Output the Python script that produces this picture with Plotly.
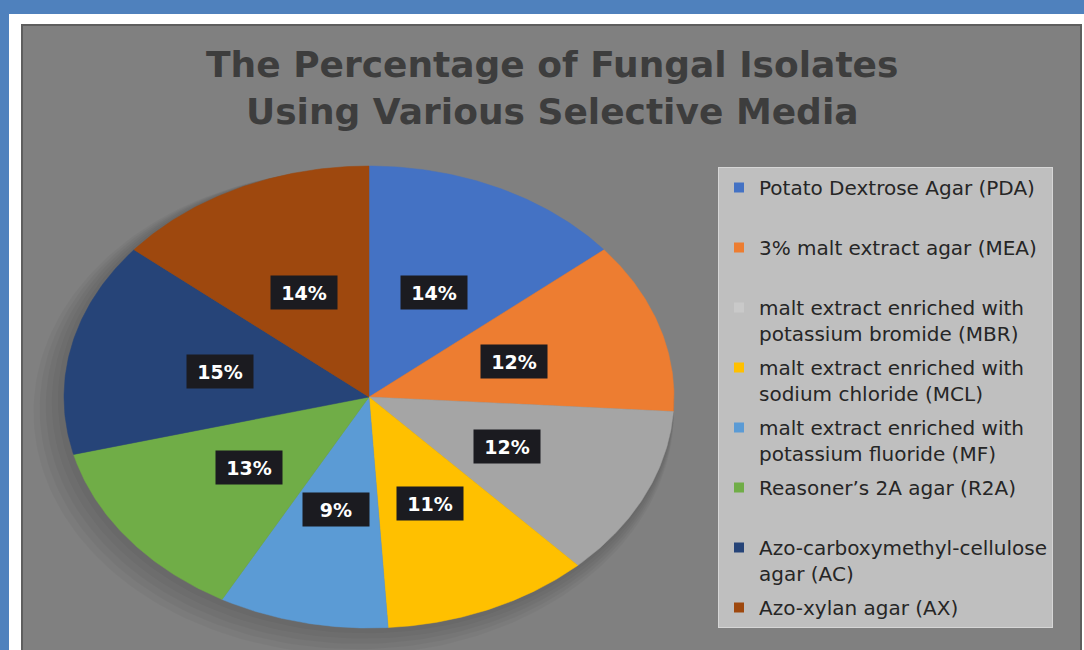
import numpy as np
import plotly.graph_objects as go

# ---------------- data ----------------
media_labels = [
    "Potato Dextrose Agar (PDA)",
    "3% malt extract agar (MEA)",
    "malt extract enriched with<br>potassium bromide (MBR)",
    "malt extract enriched with<br>sodium chloride (MCL)",
    "malt extract enriched with<br>potassium fluoride (MF)",
    "Reasoner’s 2A agar (R2A)",
    "Azo-carboxymethyl-cellulose<br>agar (AC)",
    "Azo-xylan agar (AX)",
]
percentages = [14, 12, 12, 11, 9, 13, 15, 14]
slice_colors = ["#4472C4", "#ED7D31", "#A5A5A5", "#FFC000",
                "#5B9BD5", "#70AD47", "#264478", "#9E480E"]
legend_colors = ["#4472C4", "#ED7D31", "#C9C9C9", "#FFC000",
                 "#5B9BD5", "#70AD47", "#264478", "#9E480E"]
title_text = "<b>The Percentage of Fungal Isolates<br>Using Various Selective Media</b>"

# ---------------- layout constants ----------------
W, H = 1084, 650
CX, CY, RX, RY = 369, 397, 305, 231   # pie centre / radii in pixels

fig = go.Figure()

# soft shadow beneath the pie
t = np.linspace(0, 2 * np.pi, 200)
for k in range(6):
    s = 1.0 + 0.01 * k
    fig.add_trace(go.Scatter(
        x=s * np.sin(t) - 0.01 * k, y=s * np.cos(t) - 0.013 * k,
        mode="lines", fill="toself", fillcolor="rgba(0,0,0,0.035)",
        line=dict(width=0), showlegend=False, hoverinfo="skip"))

total = sum(percentages)
start = 0.0
label_pos = []
for lab, val, col in zip(media_labels, percentages, slice_colors):
    frac = val / total
    th = np.linspace(start, start + frac, 80) * 2 * np.pi
    xs = np.concatenate([[0], np.sin(th), [0]])
    ys = np.concatenate([[0], np.cos(th), [0]])
    fig.add_trace(go.Scatter(
        x=xs, y=ys, mode="lines", fill="toself", fillcolor=col,
        line=dict(color=col, width=0.5), showlegend=False,
        hoverinfo="text", text=f"{lab}: {val}%", legendgroup=lab))
    mid = (start + frac / 2) * 2 * np.pi
    label_pos.append((0.5 * np.sin(mid), 0.5 * np.cos(mid), val))
    start += frac

# legend entries (square swatches)
n = len(media_labels)
for i, (lab, col) in enumerate(zip(media_labels, legend_colors)):
    name = lab if ("<br>" in lab or i == n - 1) else lab + "<br>\u00a0"
    fig.add_trace(go.Scatter(
        x=[None], y=[None], mode="markers",
        marker=dict(symbol="square", size=10, color=col),
        name=name, legendgroup=lab, showlegend=True))

# data labels
for x, y, v in label_pos:
    fig.add_annotation(
        x=x, y=y, xref="x", yref="y", text=f"<b>{v}%</b>", showarrow=False,
        font=dict(family="DejaVu Sans", size=19, color="white"),
        bgcolor="#1b1b20", width=66, height=33, borderpad=0)

# title
fig.add_annotation(
    x=552 / W, y=1 - 88 / H, xref="paper", yref="paper",
    xanchor="center", yanchor="middle", text=title_text, showarrow=False,
    font=dict(family="DejaVu Sans", size=36, color="#3D3D3D"))

shapes = [
    # white inner frame
    dict(type="rect", xref="paper", yref="paper", x0=9 / W, x1=1.0,
         y0=0, y1=1 - 14 / H, fillcolor="white", line=dict(width=0), layer="below"),
    # gray chart area
    dict(type="rect", xref="paper", yref="paper", x0=22 / W, x1=1081 / W,
         y0=-0.01, y1=1 - 25 / H, fillcolor="#808080",
         line=dict(color="#5E5E5E", width=2), layer="below"),
]

fig.update_layout(
    width=W, height=H, autosize=False,
    margin=dict(l=0, r=0, t=0, b=0),
    paper_bgcolor="#4F81BD", plot_bgcolor="rgba(0,0,0,0)",
    shapes=shapes,
    xaxis=dict(range=[-CX / RX, (W - CX) / RX], visible=False, fixedrange=True),
    yaxis=dict(range=[-(H - CY) / RY, CY / RY], visible=False, fixedrange=True),
    legend=dict(
        x=718 / W, y=1 - 167 / H, xanchor="left", yanchor="top",
        bgcolor="#BFBFBF", bordercolor="#D6D6D6", borderwidth=1,
        font=dict(family="DejaVu Sans", size=20, color="#262626"),
        valign="top", tracegroupgap=5, itemclick=False, itemdoubleclick=False),
    showlegend=True,
)

fig.write_html("out.html")
